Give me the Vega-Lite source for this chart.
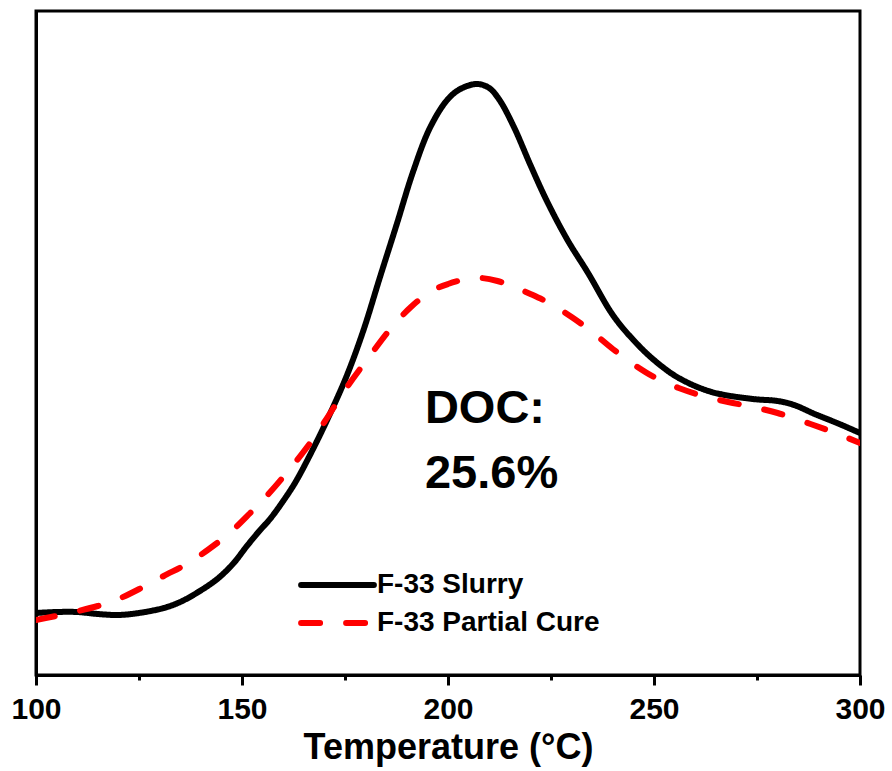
{
  "$schema": "https://vega.github.io/schema/vega-lite/v6.json",
  "width": 824,
  "height": 664,
  "autosize": {"type": "none"},
  "padding": {"left": 36, "top": 11, "right": 32, "bottom": 96},
  "background": "white",
  "config": {
    "view": {"stroke": "#000", "strokeWidth": 3},
    "font": "Liberation Sans",
    "axis": {"domainColor": "#000", "domainWidth": 3, "tickColor": "#000", "grid": false}
  },
  "datasets": {
    "curves": [
      {"T": 100, "v": 62, "s": "F-33 Slurry"},
      {"T": 105, "v": 63, "s": "F-33 Slurry"},
      {"T": 110, "v": 63, "s": "F-33 Slurry"},
      {"T": 115, "v": 61, "s": "F-33 Slurry"},
      {"T": 120, "v": 60, "s": "F-33 Slurry"},
      {"T": 125, "v": 62, "s": "F-33 Slurry"},
      {"T": 131, "v": 67, "s": "F-33 Slurry"},
      {"T": 135, "v": 73, "s": "F-33 Slurry"},
      {"T": 139, "v": 82, "s": "F-33 Slurry"},
      {"T": 144, "v": 96, "s": "F-33 Slurry"},
      {"T": 148, "v": 112, "s": "F-33 Slurry"},
      {"T": 151, "v": 128, "s": "F-33 Slurry"},
      {"T": 154, "v": 143, "s": "F-33 Slurry"},
      {"T": 157, "v": 157, "s": "F-33 Slurry"},
      {"T": 160, "v": 174, "s": "F-33 Slurry"},
      {"T": 163, "v": 193, "s": "F-33 Slurry"},
      {"T": 167, "v": 224, "s": "F-33 Slurry"},
      {"T": 171, "v": 258, "s": "F-33 Slurry"},
      {"T": 175.5, "v": 300, "s": "F-33 Slurry"},
      {"T": 179.5, "v": 345, "s": "F-33 Slurry"},
      {"T": 183.5, "v": 398, "s": "F-33 Slurry"},
      {"T": 187.5, "v": 450, "s": "F-33 Slurry"},
      {"T": 191.5, "v": 503, "s": "F-33 Slurry"},
      {"T": 195.6, "v": 547, "s": "F-33 Slurry"},
      {"T": 199.8, "v": 575, "s": "F-33 Slurry"},
      {"T": 203, "v": 586, "s": "F-33 Slurry"},
      {"T": 207, "v": 591, "s": "F-33 Slurry"},
      {"T": 210, "v": 587, "s": "F-33 Slurry"},
      {"T": 212.5, "v": 575, "s": "F-33 Slurry"},
      {"T": 216, "v": 548, "s": "F-33 Slurry"},
      {"T": 220, "v": 510, "s": "F-33 Slurry"},
      {"T": 224, "v": 474, "s": "F-33 Slurry"},
      {"T": 229, "v": 435, "s": "F-33 Slurry"},
      {"T": 234, "v": 402, "s": "F-33 Slurry"},
      {"T": 240, "v": 360, "s": "F-33 Slurry"},
      {"T": 245, "v": 335, "s": "F-33 Slurry"},
      {"T": 250, "v": 315, "s": "F-33 Slurry"},
      {"T": 256, "v": 297, "s": "F-33 Slurry"},
      {"T": 264, "v": 283, "s": "F-33 Slurry"},
      {"T": 274, "v": 276, "s": "F-33 Slurry"},
      {"T": 280, "v": 274, "s": "F-33 Slurry"},
      {"T": 284, "v": 270, "s": "F-33 Slurry"},
      {"T": 289, "v": 261, "s": "F-33 Slurry"},
      {"T": 295, "v": 251, "s": "F-33 Slurry"},
      {"T": 300, "v": 242, "s": "F-33 Slurry"},
      {"T": 100, "v": 55, "s": "F-33 Partial Cure"},
      {"T": 106, "v": 60, "s": "F-33 Partial Cure"},
      {"T": 115, "v": 69, "s": "F-33 Partial Cure"},
      {"T": 120, "v": 76, "s": "F-33 Partial Cure"},
      {"T": 126, "v": 88, "s": "F-33 Partial Cure"},
      {"T": 131, "v": 99, "s": "F-33 Partial Cure"},
      {"T": 137, "v": 112, "s": "F-33 Partial Cure"},
      {"T": 142, "v": 126, "s": "F-33 Partial Cure"},
      {"T": 147, "v": 142, "s": "F-33 Partial Cure"},
      {"T": 152, "v": 162, "s": "F-33 Partial Cure"},
      {"T": 156, "v": 179, "s": "F-33 Partial Cure"},
      {"T": 161, "v": 203, "s": "F-33 Partial Cure"},
      {"T": 166, "v": 229, "s": "F-33 Partial Cure"},
      {"T": 170, "v": 253, "s": "F-33 Partial Cure"},
      {"T": 175.5, "v": 288, "s": "F-33 Partial Cure"},
      {"T": 181, "v": 319, "s": "F-33 Partial Cure"},
      {"T": 186, "v": 346, "s": "F-33 Partial Cure"},
      {"T": 191, "v": 368, "s": "F-33 Partial Cure"},
      {"T": 196, "v": 384, "s": "F-33 Partial Cure"},
      {"T": 200, "v": 391, "s": "F-33 Partial Cure"},
      {"T": 204.6, "v": 396, "s": "F-33 Partial Cure"},
      {"T": 208, "v": 397, "s": "F-33 Partial Cure"},
      {"T": 212, "v": 394, "s": "F-33 Partial Cure"},
      {"T": 216, "v": 388, "s": "F-33 Partial Cure"},
      {"T": 220, "v": 381, "s": "F-33 Partial Cure"},
      {"T": 225, "v": 371, "s": "F-33 Partial Cure"},
      {"T": 230, "v": 358, "s": "F-33 Partial Cure"},
      {"T": 235, "v": 343, "s": "F-33 Partial Cure"},
      {"T": 240, "v": 326, "s": "F-33 Partial Cure"},
      {"T": 246, "v": 308, "s": "F-33 Partial Cure"},
      {"T": 250, "v": 298, "s": "F-33 Partial Cure"},
      {"T": 256, "v": 287, "s": "F-33 Partial Cure"},
      {"T": 262, "v": 279, "s": "F-33 Partial Cure"},
      {"T": 268, "v": 273, "s": "F-33 Partial Cure"},
      {"T": 274, "v": 268, "s": "F-33 Partial Cure"},
      {"T": 280, "v": 262, "s": "F-33 Partial Cure"},
      {"T": 288, "v": 251, "s": "F-33 Partial Cure"},
      {"T": 294, "v": 242, "s": "F-33 Partial Cure"},
      {"T": 300, "v": 232, "s": "F-33 Partial Cure"}
    ],
    "note": [
      {"T": 194.4, "v": 252, "label": "DOC:\n25.6%"}
    ]
  },
  "layer": [
    {
      "data": {"name": "curves"},
      "mark": {"type": "line", "interpolate": "catmull-rom", "strokeWidth": 6, "strokeCap": "round", "clip": true},
      "encoding": {
        "x": {
          "field": "T", "type": "quantitative",
          "scale": {"domain": [100, 300], "nice": false, "zero": false},
          "axis": {
            "values": [100, 125, 150, 175, 200, 225, 250, 275, 300],
            "labelExpr": "datum.value % 50 === 0 ? datum.label : ''",
            "tickSize": {"condition": {"test": "datum.value % 50 === 0", "value": 10}, "value": 5},
            "tickWidth": 3,
            "labelFontSize": 30,
            "labelFontWeight": "bold",
            "labelColor": "#000",
            "labelPadding": 9,
            "labelFlush": false,
            "title": "Temperature (°C)",
            "titleFontSize": 36,
            "titleFontWeight": "bold",
            "titleColor": "#000",
            "titlePadding": 6
          }
        },
        "y": {
          "field": "v", "type": "quantitative",
          "scale": {"domain": [0, 664], "nice": false, "zero": false},
          "axis": {"ticks": false, "labels": false, "title": null}
        },
        "color": {
          "field": "s", "type": "nominal",
          "scale": {"domain": ["F-33 Slurry", "F-33 Partial Cure"], "range": ["#000000", "#ff0000"]},
          "legend": {
            "orient": "none",
            "legendX": 262,
            "legendY": 559,
            "title": null,
            "symbolType": "stroke",
            "symbolStrokeWidth": 6,
            "symbolSize": 5300,
            "clipHeight": 30,
            "labelFontSize": 28,
            "labelFontWeight": "bold",
            "labelColor": "#000",
            "labelOffset": 0,
            "labelLimit": 500,
            "rowPadding": 8,
            "encode": {"symbols": {"update": {"strokeCap": {"value": "round"}}}}
          }
        },
        "strokeDash": {
          "field": "s", "type": "nominal",
          "scale": {"domain": ["F-33 Slurry", "F-33 Partial Cure"], "range": [[1, 0], [19, 26]]},
          "legend": null
        }
      }
    },
    {
      "data": {"name": "note"},
      "mark": {"type": "text", "align": "left", "baseline": "alphabetic", "fontSize": 47, "fontWeight": "bold", "color": "#000", "lineBreak": "\n", "lineHeight": 65},
      "encoding": {
        "x": {"field": "T", "type": "quantitative"},
        "y": {"field": "v", "type": "quantitative"},
        "text": {"field": "label"}
      }
    }
  ]
}
